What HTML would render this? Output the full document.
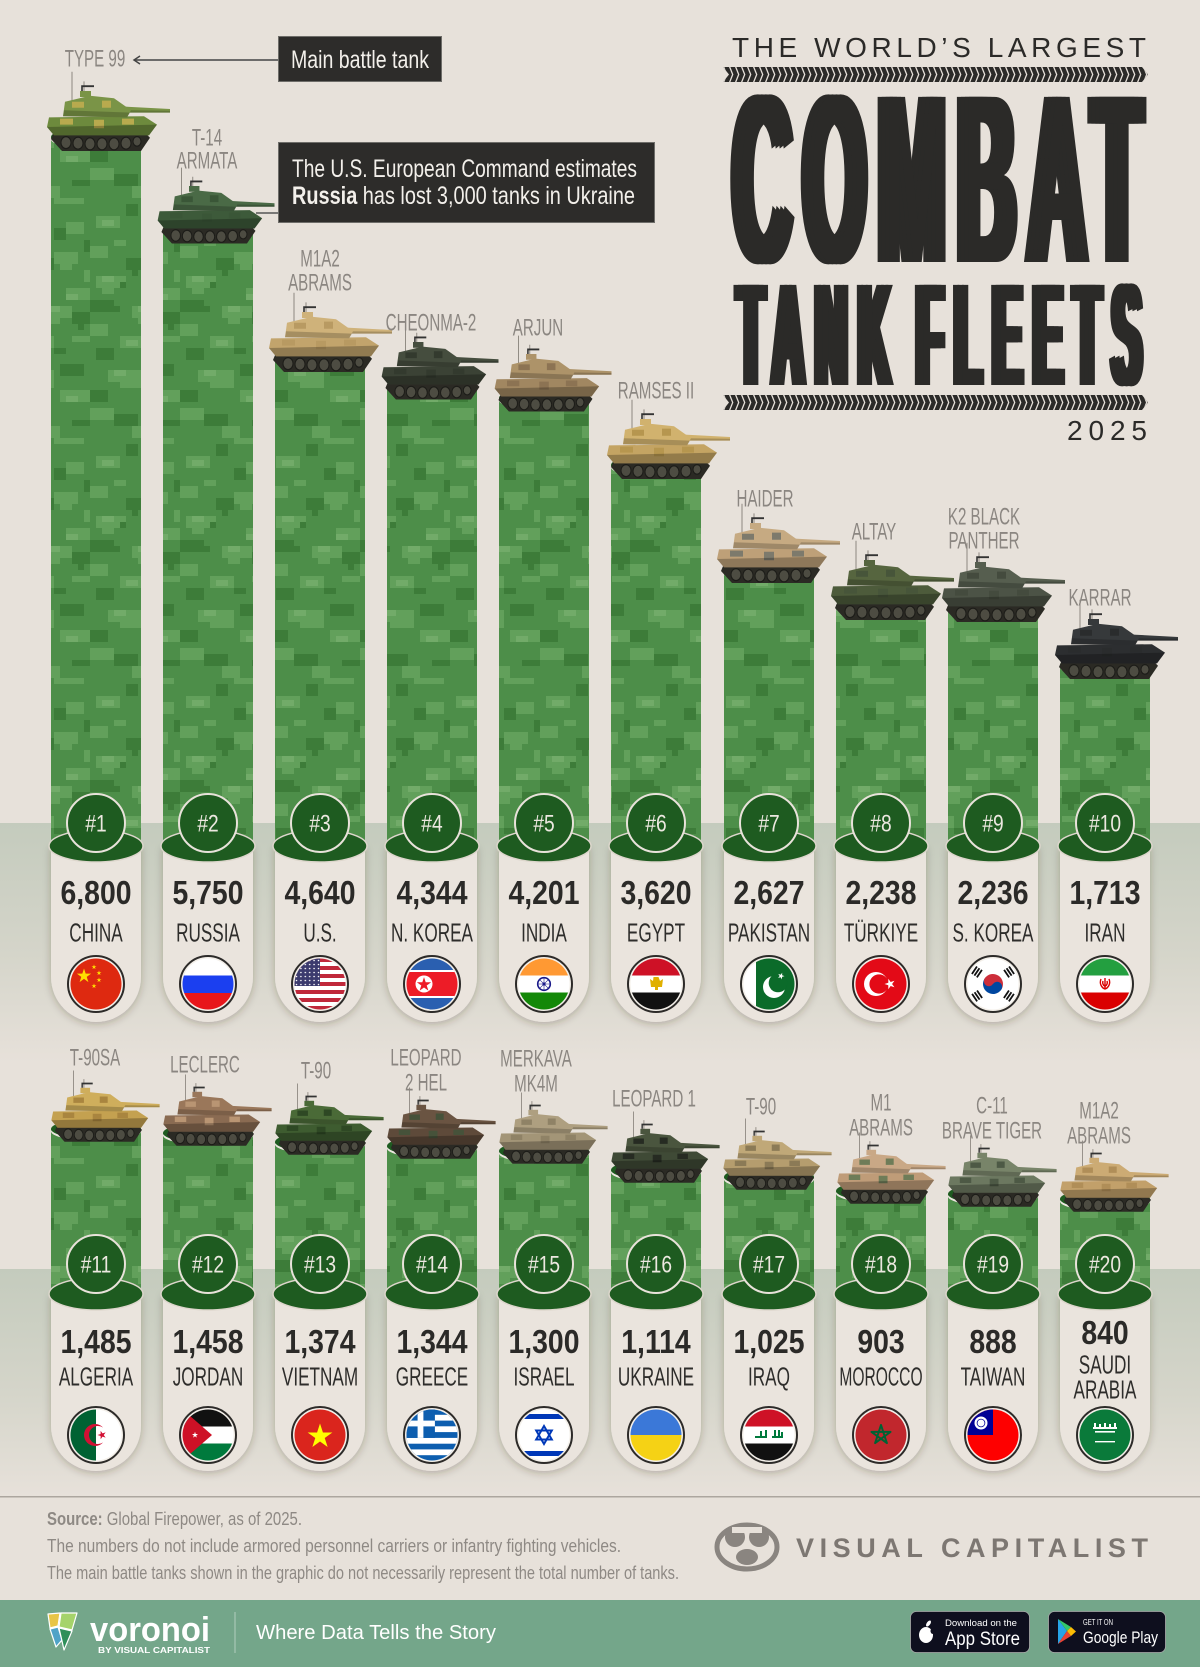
<!DOCTYPE html>
<html><head><meta charset="utf-8">
<style>
html,body{margin:0;padding:0;background:#e7e1da;}
svg{display:block;}
.v{font:bold 33px "Liberation Sans",sans-serif;fill:#2b2a28;text-anchor:middle;}
.c{font:26px "Liberation Sans",sans-serif;fill:#2e2d2b;text-anchor:middle;}
.r{font:24px "Liberation Sans",sans-serif;fill:#ece8e0;text-anchor:middle;}
.l{font:24px "Liberation Sans",sans-serif;fill:#8b8681;text-anchor:middle;}
.ann{font:25px "Liberation Sans",sans-serif;fill:#f3f0eb;}
.src{font:18px "Liberation Sans",sans-serif;fill:#8e8984;}
</style></head>
<body>
<svg width="1200" height="1667" viewBox="0 0 1200 1667" xmlns="http://www.w3.org/2000/svg">
<defs>
 <pattern id="camo" width="90" height="240" patternUnits="userSpaceOnUse">
  <rect width="90" height="240" fill="#4d8e49"/>
  <g fill="#62a05b">
   <rect x="0" y="6" width="18" height="12"/><rect x="24" y="0" width="12" height="6"/>
   <rect x="54" y="12" width="24" height="12"/><rect x="60" y="24" width="12" height="6"/>
   <rect x="6" y="36" width="30" height="12"/><rect x="12" y="48" width="12" height="6"/>
   <rect x="66" y="48" width="24" height="12"/><rect x="42" y="66" width="30" height="12"/>
   <rect x="48" y="78" width="12" height="6"/><rect x="0" y="84" width="18" height="12"/>
   <rect x="30" y="96" width="24" height="12"/><rect x="72" y="96" width="18" height="6"/>
   <rect x="84" y="30" width="6" height="12"/>
   <rect x="18" y="130" width="36" height="12"/><rect x="30" y="142" width="24" height="6"/>
   <rect x="60" y="150" width="30" height="12"/><rect x="0" y="168" width="24" height="12"/>
   <rect x="42" y="186" width="18" height="12"/><rect x="54" y="198" width="30" height="6"/>
   <rect x="6" y="216" width="24" height="12"/><rect x="66" y="222" width="18" height="12"/>
  </g>
  <g fill="#72ab69">
   <rect x="12" y="36" width="12" height="6"/><rect x="66" y="54" width="12" height="6"/>
   <rect x="48" y="66" width="12" height="6"/><rect x="36" y="100" width="12" height="6"/>
   <rect x="24" y="130" width="12" height="6"/><rect x="66" y="156" width="12" height="6"/>
   <rect x="12" y="220" width="12" height="6"/>
  </g>
  <g fill="#3d7c39">
   <rect x="36" y="18" width="18" height="12"/><rect x="42" y="30" width="6" height="6"/>
   <rect x="0" y="60" width="24" height="12"/><rect x="18" y="66" width="12" height="6"/>
   <rect x="72" y="72" width="18" height="12"/><rect x="78" y="84" width="6" height="6"/>
   <rect x="6" y="108" width="18" height="12"/><rect x="54" y="108" width="12" height="6"/>
   <rect x="30" y="42" width="6" height="6"/><rect x="84" y="0" width="6" height="12"/>
   <rect x="60" y="124" width="24" height="12"/><rect x="0" y="150" width="18" height="12"/>
   <rect x="24" y="174" width="24" height="12"/><rect x="72" y="180" width="18" height="6"/>
   <rect x="36" y="204" width="12" height="12"/><rect x="54" y="228" width="12" height="12"/>
  </g>
 </pattern>
 <linearGradient id="band" x1="0" y1="0" x2="0" y2="1">
  <stop offset="0" stop-color="#c4cbbd"/><stop offset="0.55" stop-color="#d5d5ca"/><stop offset="1" stop-color="#e7e1da"/>
 </linearGradient>
 <filter id="sh" x="-30%" y="-10%" width="160%" height="130%">
  <feDropShadow dx="0" dy="2" stdDeviation="4" flood-color="#3a3020" flood-opacity="0.28"/>
 </filter>
 <pattern id="chv1" width="6" height="15" patternUnits="userSpaceOnUse" x="723" y="67">
  <path d="M0,0H1.4L4.4,7.5L1.4,15H0L3,7.5Z" fill="#e7e1da"/>
 </pattern>
 <pattern id="chv2" width="6" height="15" patternUnits="userSpaceOnUse" x="723" y="395">
  <path d="M0,0H1.4L4.4,7.5L1.4,15H0L3,7.5Z" fill="#e7e1da"/>
 </pattern>
 <pattern id="usd" width="4.4" height="4" patternUnits="userSpaceOnUse" x="-25" y="-25">
  <circle cx="1.5" cy="1.5" r="0.8" fill="#fff"/>
 </pattern>
 <polygon id="st" points="0,-1 0.225,-0.309 0.951,-0.309 0.363,0.118 0.588,0.809 0,0.382 -0.588,0.809 -0.363,0.118 -0.951,-0.309 -0.225,-0.309"/>
 <clipPath id="fc"><circle r="25.5"/></clipPath>
 <g id="cap"><ellipse cy="2.2" rx="45" ry="10" fill="#ece7e0"/><ellipse rx="45" ry="10" fill="#1e5b20"/></g>
 <path id="pill1" d="M-45,846V977A45,45 0 0 0 45,977V846Z"/>
 <path id="pill2" d="M-45,1294V1426A45,45 0 0 0 45,1426V1294Z"/>
 <g id="hd1"><ellipse cy="846" rx="47" ry="16" fill="#1e5b20" stroke="#ddd6cc" stroke-width="1.5"/><circle cy="823" r="29" fill="#1e5b20" stroke="#e8e2da" stroke-width="2"/></g>
 <g id="hd2"><ellipse cy="1294" rx="47" ry="16" fill="#1e5b20" stroke="#ddd6cc" stroke-width="1.5"/><circle cy="1264" r="29" fill="#1e5b20" stroke="#e8e2da" stroke-width="2"/></g>
 <circle id="fr" r="28" fill="#f4f0ea" stroke="#2d2b29" stroke-width="2"/>
 <g id="tk">
  <path d="M-28,-31V-56M-16,-35V-48" stroke="#77716a" stroke-width="0.8" fill="none"/>
  <path d="M-46,-6H44L50,-1L41,10H-38L-49,0Z" fill="#2b2a24"/>
  <g fill="#4d4c42" stroke="#1c1c18" stroke-width="1">
   <circle cx="-34" cy="3" r="5"/><circle cx="-22" cy="3.5" r="5"/><circle cx="-10" cy="4" r="5"/><circle cx="2" cy="4" r="5"/><circle cx="14" cy="4" r="5"/><circle cx="26" cy="3.5" r="5"/><circle cx="37" cy="2" r="4"/>
  </g>
  <path d="M-51,-18L44,-19L57,-12L49,-3L-46,-3L-53,-10Z" style="fill:var(--b,#556b3a)"/>
  <path d="M-40,-17h13v5h-13zM-6,-16h10v7h-10zM22,-17h12v5h-12z" style="fill:var(--c,#445530)"/>
  <path d="M-53,-10L57,-12L49,-3L-46,-3Z" fill="#000" opacity=".25"/>
  <path d="M25,-27L70,-25L70,-22L25,-22Z" style="fill:var(--t,#5a7040)"/>
  <path d="M25,-24L70,-23.5L70,-22L25,-22Z" fill="#000" opacity=".2"/>
  <path d="M-37,-19L-35,-31L-10,-36L14,-34L31,-24L27,-18Z" style="fill:var(--t,#5a7040)"/>
  <path d="M-28,-31h12v5h-12zM2,-32h9v6h-9z" style="fill:var(--c,#445530)"/>
  <path d="M-37,-19L27,-18L30,-22L-36,-24Z" fill="#000" opacity=".2"/>
  <path d="M-20,-35h11v-5h-11z" style="fill:var(--t,#5a7040)"/>
  <path d="M-18,-40v-4h12" stroke="#333" stroke-width="1.6" fill="none"/>
 </g>
</defs>

<!-- background -->
<rect width="1200" height="1667" fill="#e7e1da"/>
<rect x="0" y="823" width="1200" height="240" fill="url(#band)"/>
<rect x="0" y="1269" width="1200" height="227" fill="url(#band)"/>

<!-- bars -->
<g fill="url(#camo)">
 <rect x="51" y="137" width="90" height="709"/>
 <rect x="163" y="230" width="90" height="616"/>
 <rect x="275" y="358" width="90" height="488"/>
 <rect x="387" y="386" width="90" height="460"/>
 <rect x="499" y="398" width="90" height="448"/>
 <rect x="611" y="465" width="90" height="381"/>
 <rect x="724" y="569" width="90" height="277"/>
 <rect x="836" y="606" width="90" height="240"/>
 <rect x="948" y="608" width="90" height="238"/>
 <rect x="1060" y="665" width="90" height="181"/>
 <rect x="51" y="1129" width="90" height="165"/>
 <rect x="163" y="1133" width="90" height="161"/>
 <rect x="275" y="1142" width="90" height="152"/>
 <rect x="387" y="1146" width="90" height="148"/>
 <rect x="499" y="1151" width="90" height="143"/>
 <rect x="611" y="1170" width="90" height="124"/>
 <rect x="724" y="1177" width="90" height="117"/>
 <rect x="836" y="1191" width="90" height="103"/>
 <rect x="948" y="1194" width="90" height="100"/>
 <rect x="1060" y="1199" width="90" height="95"/>
</g>
<use href="#cap" x="96" y="137"/><use href="#cap" x="208" y="230"/><use href="#cap" x="320" y="358"/><use href="#cap" x="432" y="386"/><use href="#cap" x="544" y="398"/>
<use href="#cap" x="656" y="465"/><use href="#cap" x="769" y="569"/><use href="#cap" x="881" y="606"/><use href="#cap" x="993" y="608"/><use href="#cap" x="1105" y="665"/>
<use href="#cap" x="96" y="1129"/><use href="#cap" x="208" y="1133"/><use href="#cap" x="320" y="1142"/><use href="#cap" x="432" y="1146"/><use href="#cap" x="544" y="1151"/>
<use href="#cap" x="656" y="1170"/><use href="#cap" x="769" y="1177"/><use href="#cap" x="881" y="1191"/><use href="#cap" x="993" y="1194"/><use href="#cap" x="1105" y="1199"/>

<!-- pills -->
<g fill="#eae4dd" filter="url(#sh)">
 <use href="#pill1" x="96"/><use href="#pill1" x="208"/><use href="#pill1" x="320"/><use href="#pill1" x="432"/><use href="#pill1" x="544"/>
 <use href="#pill1" x="656"/><use href="#pill1" x="769"/><use href="#pill1" x="881"/><use href="#pill1" x="993"/><use href="#pill1" x="1105"/>
 <use href="#pill2" x="96"/><use href="#pill2" x="208"/><use href="#pill2" x="320"/><use href="#pill2" x="432"/><use href="#pill2" x="544"/>
 <use href="#pill2" x="656"/><use href="#pill2" x="769"/><use href="#pill2" x="881"/><use href="#pill2" x="993"/><use href="#pill2" x="1105"/>
</g>
<use href="#hd1" x="96"/><use href="#hd1" x="208"/><use href="#hd1" x="320"/><use href="#hd1" x="432"/><use href="#hd1" x="544"/>
<use href="#hd1" x="656"/><use href="#hd1" x="769"/><use href="#hd1" x="881"/><use href="#hd1" x="993"/><use href="#hd1" x="1105"/>
<use href="#hd2" x="96"/><use href="#hd2" x="208"/><use href="#hd2" x="320"/><use href="#hd2" x="432"/><use href="#hd2" x="544"/>
<use href="#hd2" x="656"/><use href="#hd2" x="769"/><use href="#hd2" x="881"/><use href="#hd2" x="993"/><use href="#hd2" x="1105"/>

<!-- ranks -->
<g class="r" transform="scale(0.8,1)">
 <text x="120" y="831.5">#1</text><text x="260" y="831.5">#2</text><text x="400" y="831.5">#3</text><text x="540" y="831.5">#4</text><text x="680" y="831.5">#5</text>
 <text x="820" y="831.5">#6</text><text x="961.25" y="831.5">#7</text><text x="1101.25" y="831.5">#8</text><text x="1241.25" y="831.5">#9</text><text x="1381.25" y="831.5">#10</text>
 <text x="120" y="1272.5">#11</text><text x="260" y="1272.5">#12</text><text x="400" y="1272.5">#13</text><text x="540" y="1272.5">#14</text><text x="680" y="1272.5">#15</text>
 <text x="820" y="1272.5">#16</text><text x="961.25" y="1272.5">#17</text><text x="1101.25" y="1272.5">#18</text><text x="1241.25" y="1272.5">#19</text><text x="1381.25" y="1272.5">#20</text>
</g>

<!-- values -->
<g class="v" transform="scale(0.86,1)">
 <text x="111.63" y="904">6,800</text><text x="241.86" y="904">5,750</text><text x="372.09" y="904">4,640</text><text x="502.33" y="904">4,344</text><text x="632.56" y="904">4,201</text>
 <text x="762.79" y="904">3,620</text><text x="894.19" y="904">2,627</text><text x="1024.42" y="904">2,238</text><text x="1154.65" y="904">2,236</text><text x="1284.88" y="904">1,713</text>
 <text x="111.63" y="1353">1,485</text><text x="241.86" y="1353">1,458</text><text x="372.09" y="1353">1,374</text><text x="502.33" y="1353">1,344</text><text x="632.56" y="1353">1,300</text>
 <text x="762.79" y="1353">1,114</text><text x="894.19" y="1353">1,025</text><text x="1024.42" y="1353">903</text><text x="1154.65" y="1353">888</text><text x="1284.88" y="1344">840</text>
</g>

<!-- countries -->
<g class="c" transform="scale(0.66,1)">
 <text x="145.45" y="941.5">CHINA</text><text x="315.15" y="941.5">RUSSIA</text><text x="484.85" y="941.5">U.S.</text><text x="654.55" y="941.5">N. KOREA</text><text x="824.24" y="941.5">INDIA</text>
 <text x="993.94" y="941.5">EGYPT</text><text x="1165.15" y="941.5">PAKISTAN</text><text x="1334.85" y="941.5">TÜRKIYE</text><text x="1504.55" y="941.5">S. KOREA</text><text x="1674.24" y="941.5">IRAN</text>
 <text x="145.45" y="1385.5">ALGERIA</text><text x="315.15" y="1385.5">JORDAN</text><text x="484.85" y="1385.5">VIETNAM</text><text x="654.55" y="1385.5">GREECE</text><text x="824.24" y="1385.5">ISRAEL</text>
 <text x="993.94" y="1385.5">UKRAINE</text><text x="1165.15" y="1385.5">IRAQ</text><text x="1334.85" y="1385.5" textLength="126" lengthAdjust="spacingAndGlyphs">MOROCCO</text><text x="1504.55" y="1385.5">TAIWAN</text>
 <text x="1674.24" y="1373.5">SAUDI</text><text x="1674.24" y="1398.5">ARABIA</text>
</g>

<!-- flag rings -->
<use href="#fr" x="96" y="984"/><use href="#fr" x="208" y="984"/><use href="#fr" x="320" y="984"/><use href="#fr" x="432" y="984"/><use href="#fr" x="544" y="984"/>
<use href="#fr" x="656" y="984"/><use href="#fr" x="769" y="984"/><use href="#fr" x="881" y="984"/><use href="#fr" x="993" y="984"/><use href="#fr" x="1105" y="984"/>
<use href="#fr" x="96" y="1435"/><use href="#fr" x="208" y="1435"/><use href="#fr" x="320" y="1435"/><use href="#fr" x="432" y="1435"/><use href="#fr" x="544" y="1435"/>
<use href="#fr" x="656" y="1435"/><use href="#fr" x="769" y="1435"/><use href="#fr" x="881" y="1435"/><use href="#fr" x="993" y="1435"/><use href="#fr" x="1105" y="1435"/>

<!-- China -->
<g transform="translate(96,984)" clip-path="url(#fc)">
 <rect x="-26" y="-26" width="52" height="52" fill="#de2910"/>
 <g fill="#ffde00">
  <use href="#st" transform="translate(-12,-8) scale(7.5)"/>
  <use href="#st" transform="translate(-2,-17) scale(2.6)"/>
  <use href="#st" transform="translate(3,-11) scale(2.6)"/>
  <use href="#st" transform="translate(3,-4) scale(2.6)"/>
  <use href="#st" transform="translate(-2,2) scale(2.6)"/>
 </g>
</g>
<!-- Russia -->
<g transform="translate(208,984)" clip-path="url(#fc)">
 <rect x="-26" y="-26" width="52" height="18" fill="#fff"/>
 <rect x="-26" y="-8.5" width="52" height="17.5" fill="#1b3ff0"/>
 <rect x="-26" y="9" width="52" height="17" fill="#e8161b"/>
</g>
<!-- US -->
<g transform="translate(320,984)" clip-path="url(#fc)">
 <rect x="-26" y="-26" width="52" height="52" fill="#fff"/>
 <g fill="#c0283a">
  <rect x="-26" y="-26" width="52" height="4"/><rect x="-26" y="-18" width="52" height="4"/><rect x="-26" y="-10" width="52" height="4"/>
  <rect x="-26" y="-2" width="52" height="4"/><rect x="-26" y="6" width="52" height="4"/><rect x="-26" y="14" width="52" height="4"/><rect x="-26" y="22" width="52" height="4"/>
 </g>
 <rect x="-26" y="-26" width="26" height="28" fill="#3c3b6e"/>
 <rect x="-26" y="-26" width="26" height="28" fill="url(#usd)"/>
</g>
<!-- N Korea -->
<g transform="translate(432,984)" clip-path="url(#fc)">
 <rect x="-26" y="-26" width="52" height="52" fill="#fff"/>
 <rect x="-26" y="-26" width="52" height="12" fill="#2a5fb0"/>
 <rect x="-26" y="-12" width="52" height="24" fill="#ed1c27"/>
 <rect x="-26" y="14" width="52" height="12" fill="#2a5fb0"/>
 <circle cx="-8" cy="0" r="8.5" fill="#fff"/>
 <use href="#st" transform="translate(-8,0.6) scale(7.5)" fill="#ed1c27"/>
</g>
<!-- India -->
<g transform="translate(544,984)" clip-path="url(#fc)">
 <rect x="-26" y="-26" width="52" height="17.5" fill="#ff9933"/>
 <rect x="-26" y="-8.5" width="52" height="17" fill="#fff"/>
 <rect x="-26" y="8.5" width="52" height="17.5" fill="#138808"/>
 <circle r="6.3" fill="none" stroke="#1a1a8a" stroke-width="1.6"/>
 <circle r="1.6" fill="#1a1a8a"/>
 <path d="M-6,0H6M0,-6V6M-4.2,-4.2L4.2,4.2M-4.2,4.2L4.2,-4.2" stroke="#1a1a8a" stroke-width="0.6"/>
</g>
<!-- Egypt -->
<g transform="translate(656,984)" clip-path="url(#fc)">
 <rect x="-26" y="-26" width="52" height="17.5" fill="#ce1126"/>
 <rect x="-26" y="-8.5" width="52" height="17" fill="#fff"/>
 <rect x="-26" y="8.5" width="52" height="17.5" fill="#111"/>
 <path d="M-2.5,-7h5l1.5,4l3,-2l-1,8h-4l0,3h-3l0,-3h-4l-1,-8l3,2z" fill="#e0b000"/>
</g>
<!-- Pakistan -->
<g transform="translate(769,984)" clip-path="url(#fc)">
 <rect x="-26" y="-26" width="52" height="52" fill="#fff"/>
 <rect x="-13" y="-26" width="39" height="52" fill="#0b6b2a"/>
 <circle cx="5" cy="3" r="11" fill="#fff"/>
 <circle cx="9" cy="-1" r="9.3" fill="#0b6b2a"/>
 <use href="#st" transform="translate(12,-8) rotate(20) scale(3.5)" fill="#fff"/>
</g>
<!-- Turkiye -->
<g transform="translate(881,984)" clip-path="url(#fc)">
 <rect x="-26" y="-26" width="52" height="52" fill="#e30a17"/>
 <circle cx="-5" cy="0" r="12" fill="#fff"/>
 <circle cx="-2" cy="0" r="9.6" fill="#e30a17"/>
 <use href="#st" transform="translate(9,0) rotate(-90) scale(5.5)" fill="#fff"/>
</g>
<!-- S Korea -->
<g transform="translate(993,984)" clip-path="url(#fc)">
 <rect x="-26" y="-26" width="52" height="52" fill="#fff"/>
 <g transform="rotate(34)">
  <path d="M-10,0A10,10 0 0 1 10,0Z" fill="#cd2e3a"/>
  <path d="M-10,0A10,10 0 0 0 10,0Z" fill="#0047a0"/>
  <circle cx="-5" cy="0" r="5" fill="#cd2e3a"/>
  <circle cx="5" cy="0" r="5" fill="#0047a0"/>
 </g>
 <g fill="#111">
  <g transform="translate(-16,-12) rotate(-56)"><rect x="-4.5" y="-4" width="9" height="1.8"/><rect x="-4.5" y="-1" width="9" height="1.8"/><rect x="-4.5" y="2" width="9" height="1.8"/></g>
  <g transform="translate(16,-12) rotate(56)"><rect x="-4.5" y="-4" width="9" height="1.8"/><rect x="-4.5" y="-1" width="9" height="1.8"/><rect x="-4.5" y="2" width="9" height="1.8"/></g>
  <g transform="translate(-16,12) rotate(56)"><rect x="-4.5" y="-4" width="9" height="1.8"/><rect x="-4.5" y="-1" width="9" height="1.8"/><rect x="-4.5" y="2" width="9" height="1.8"/></g>
  <g transform="translate(16,12) rotate(-56)"><rect x="-4.5" y="-4" width="9" height="1.8"/><rect x="-4.5" y="-1" width="9" height="1.8"/><rect x="-4.5" y="2" width="9" height="1.8"/></g>
 </g>
</g>
<!-- Iran -->
<g transform="translate(1105,984)" clip-path="url(#fc)">
 <rect x="-26" y="-26" width="52" height="17.5" fill="#239f40"/>
 <rect x="-26" y="-8.5" width="52" height="17" fill="#fff"/>
 <rect x="-26" y="8.5" width="52" height="17.5" fill="#da0000"/>
 <path d="M-4,-5C-6,0 -3,4 0,5C3,4 6,0 4,-5M0,-6V5M-2,-3C-3,0 -1,2 0,2C1,2 3,0 2,-3" stroke="#da0000" stroke-width="1.4" fill="none"/>
</g>

<!-- Algeria -->
<g transform="translate(96,1435)" clip-path="url(#fc)">
 <rect x="-26" y="-26" width="26" height="52" fill="#006233"/>
 <rect x="0" y="-26" width="26" height="52" fill="#fff"/>
 <path transform="translate(-3,0)" d="M10.17,-7.37A11,11 0 1 0 10.17,7.37A9,9 0 1 1 10.17,-7.37Z" fill="#d21034"/>
 <use href="#st" transform="translate(6,0) rotate(-90) scale(4.5)" fill="#d21034"/>
</g>
<!-- Jordan -->
<g transform="translate(208,1435)" clip-path="url(#fc)">
 <rect x="-26" y="-26" width="52" height="17.5" fill="#111"/>
 <rect x="-26" y="-8.5" width="52" height="17" fill="#fff"/>
 <rect x="-26" y="8.5" width="52" height="17.5" fill="#007a3d"/>
 <polygon points="-26,-26 4,0 -26,26" fill="#ce1126"/>
 <use href="#st" transform="translate(-13,0) scale(3.2)" fill="#fff"/>
</g>
<!-- Vietnam -->
<g transform="translate(320,1435)" clip-path="url(#fc)">
 <rect x="-26" y="-26" width="52" height="52" fill="#da251d"/>
 <use href="#st" transform="translate(0,1.5) scale(13)" fill="#ffff00"/>
</g>
<!-- Greece -->
<g transform="translate(432,1435)" clip-path="url(#fc)">
 <rect x="-26" y="-26" width="52" height="52" fill="#0d5eaf"/>
 <g fill="#fff"><rect x="-26" y="-20.2" width="52" height="5.8"/><rect x="-26" y="-8.7" width="52" height="5.8"/><rect x="-26" y="2.9" width="52" height="5.8"/><rect x="-26" y="14.4" width="52" height="5.8"/></g>
 <rect x="-26" y="-26" width="28.9" height="28.9" fill="#0d5eaf"/>
 <rect x="-26" y="-14.4" width="28.9" height="5.8" fill="#fff"/>
 <rect x="-14.4" y="-26" width="5.8" height="28.9" fill="#fff"/>
</g>
<!-- Israel -->
<g transform="translate(544,1435)" clip-path="url(#fc)">
 <rect x="-26" y="-26" width="52" height="52" fill="#fff"/>
 <rect x="-26" y="-21" width="52" height="5" fill="#0038b8"/>
 <rect x="-26" y="16" width="52" height="5" fill="#0038b8"/>
 <polygon points="0,-9 7.8,4.5 -7.8,4.5" fill="none" stroke="#0038b8" stroke-width="2"/>
 <polygon points="0,9 7.8,-4.5 -7.8,-4.5" fill="none" stroke="#0038b8" stroke-width="2"/>
</g>
<!-- Ukraine -->
<g transform="translate(656,1435)" clip-path="url(#fc)">
 <rect x="-26" y="-26" width="52" height="26" fill="#3b78d8"/>
 <rect x="-26" y="0" width="52" height="26" fill="#f5d215"/>
</g>
<!-- Iraq -->
<g transform="translate(769,1435)" clip-path="url(#fc)">
 <rect x="-26" y="-26" width="52" height="17.5" fill="#ce1126"/>
 <rect x="-26" y="-8.5" width="52" height="17" fill="#fff"/>
 <rect x="-26" y="8.5" width="52" height="17.5" fill="#111"/>
 <g fill="#007a3d"><rect x="-14" y="1" width="12" height="2"/><rect x="-9" y="-4" width="2" height="6"/><rect x="-4" y="-5" width="2" height="7"/><rect x="3" y="1" width="11" height="2"/><rect x="5" y="-5" width="2" height="7"/><rect x="9" y="-5" width="2" height="7"/><rect x="12" y="-3" width="2" height="5"/></g>
</g>
<!-- Morocco -->
<g transform="translate(881,1435)" clip-path="url(#fc)">
 <rect x="-26" y="-26" width="52" height="52" fill="#c1272d"/>
 <polygon points="0,-10 5.88,8.09 -9.51,-3.09 9.51,-3.09 -5.88,8.09" fill="none" stroke="#006233" stroke-width="2" stroke-linejoin="round"/>
</g>
<!-- Taiwan -->
<g transform="translate(993,1435)" clip-path="url(#fc)">
 <rect x="-26" y="-26" width="52" height="52" fill="#fe0000"/>
 <rect x="-26" y="-26" width="26" height="26" fill="#000095"/>
 <circle cx="-12" cy="-12" r="6.5" fill="#fff"/>
 <circle cx="-12" cy="-12" r="4.3" fill="#000095"/>
 <circle cx="-12" cy="-12" r="3.5" fill="#fff"/>
</g>
<!-- Saudi -->
<g transform="translate(1105,1435)" clip-path="url(#fc)">
 <rect x="-26" y="-26" width="52" height="52" fill="#0a7a3a"/>
 <g fill="#fff"><rect x="-12" y="-8" width="24" height="2"/><rect x="-11" y="-12" width="2" height="6"/><rect x="-6" y="-11" width="2" height="5"/><rect x="-1" y="-12" width="2" height="6"/><rect x="4" y="-11" width="2" height="5"/><rect x="9" y="-12" width="2" height="6"/><rect x="-10" y="-4" width="20" height="1.6"/><rect x="-10" y="6" width="20" height="1.4"/></g>
</g>

<!-- tanks row 1 -->
<use href="#tk" transform="translate(100,139) scale(1,1.2)" style="--b:#6d8a3d;--t:#7a9447;--c:#b8aa4e"/>
<use href="#tk" transform="translate(208,232) scale(.95,1.15)" style="--b:#3d5a3a;--t:#4a6a46;--c:#3a5637"/>
<use href="#tk" transform="translate(322,360) scale(1,1.2)" style="--b:#c2a46c;--t:#cfb27a;--c:#b89a62"/>
<use href="#tk" transform="translate(432,388) scale(.95,1.15)" style="--b:#3b4235;--t:#454d3e;--c:#333a2e"/>
<use href="#tk" transform="translate(545,400) scale(.95,1.15)" style="--b:#a18761;--t:#ad9369;--c:#8c7353"/>
<use href="#tk" transform="translate(660,467) scale(1,1.2)" style="--b:#c4a463;--t:#d1b26e;--c:#b6964f"/>
<use href="#tk" transform="translate(770,571) scale(1,1.2)" style="--b:#bea078;--t:#c6aa82;--c:#7d7a6c"/>
<use href="#tk" transform="translate(884,608) scale(1,1.2)" style="--b:#4d5b3b;--t:#56653f;--c:#47553a"/>
<use href="#tk" transform="translate(995,610) scale(1,1.2)" style="--b:#4c5346;--t:#565e4f;--c:#444b3e"/>
<use href="#tk" transform="translate(1108,667) scale(1,1.2)" style="--b:#2c2e30;--t:#36393b;--c:#2a2c2d"/>
<!-- tanks row 2 -->
<use href="#tk" transform="translate(98,1131) scale(.88,1.08)" style="--b:#c4a150;--t:#cfae5c;--c:#a9853f"/>
<use href="#tk" transform="translate(210,1135) scale(.88,1.08)" style="--b:#8a6b52;--t:#9a775a;--c:#b99573"/>
<use href="#tk" transform="translate(322,1144) scale(.88,1.08)" style="--b:#3e5c30;--t:#4a6a37;--c:#2e4824"/>
<use href="#tk" transform="translate(434,1148) scale(.88,1.08)" style="--b:#5e4a3a;--t:#6a5442;--c:#46523a"/>
<use href="#tk" transform="translate(546,1153) scale(.88,1.08)" style="--b:#a39577;--t:#ae9f80;--c:#8f8266"/>
<use href="#tk" transform="translate(658,1172) scale(.88,1.08)" style="--b:#3f4a36;--t:#4a553e;--c:#262b22"/>
<use href="#tk" transform="translate(770,1179) scale(.88,1.08)" style="--b:#b59d6e;--t:#c0a878;--c:#8b7a56"/>
<use href="#tk" transform="translate(884,1193) scale(.88,1.08)" style="--b:#bf9c78;--t:#c9a886;--c:#6e7c58"/>
<use href="#tk" transform="translate(995,1196) scale(.88,1.08)" style="--b:#6c7860;--t:#788469;--c:#4d5945"/>
<use href="#tk" transform="translate(1107,1201) scale(.88,1.08)" style="--b:#c2a06a;--t:#ccab74;--c:#b08e58"/>

<!-- tank labels -->
<g class="l" transform="scale(0.63,1)">
 <text x="150.79" y="66.5">TYPE 99</text>
 <text x="328.57" y="145.5">T-14</text><text x="328.57" y="168.5">ARMATA</text>
 <text x="507.94" y="266.5">M1A2</text><text x="507.94" y="290.5">ABRAMS</text>
 <text x="684.13" y="330.5">CHEONMA-2</text>
 <text x="853.97" y="335.5">ARJUN</text>
 <text x="1041.27" y="398.5">RAMSES II</text>
 <text x="1214.29" y="506.5">HAIDER</text>
 <text x="1387.30" y="539.5">ALTAY</text>
 <text x="1561.90" y="524.5">K2 BLACK</text><text x="1561.90" y="548.5">PANTHER</text>
 <text x="1746.03" y="605.5">KARRAR</text>
 <text x="150.79" y="1065.5">T-90SA</text>
 <text x="325.40" y="1072.5">LECLERC</text>
 <text x="501.59" y="1078.5">T-90</text>
 <text x="676.19" y="1065.5">LEOPARD</text><text x="676.19" y="1090.5">2 HEL</text>
 <text x="850.79" y="1066.5">MERKAVA</text><text x="850.79" y="1091.5">MK4M</text>
 <text x="1038.10" y="1106.5">LEOPARD 1</text>
 <text x="1207.94" y="1114.5">T-90</text>
 <text x="1398.41" y="1110.5">M1</text><text x="1398.41" y="1135.5">ABRAMS</text>
 <text x="1574.60" y="1113.5">C-11</text><text x="1574.60" y="1138.5">BRAVE TIGER</text>
 <text x="1744.44" y="1118.5">M1A2</text><text x="1744.44" y="1143.5">ABRAMS</text>
</g>

<!-- annotations -->
<line x1="134" y1="60" x2="278" y2="60" stroke="#444" stroke-width="1.5"/>
<path d="M140,56L134,60L140,64" stroke="#444" stroke-width="1.5" fill="none"/>
<rect x="278.5" y="36.5" width="163" height="45" fill="#2d2c2a" stroke="#6e6d69" stroke-width="1"/>
<text class="ann" x="360" y="68" text-anchor="middle" textLength="138" lengthAdjust="spacingAndGlyphs">Main battle tank</text>
<line x1="256" y1="213" x2="278" y2="213" stroke="#555" stroke-width="1.5"/>
<rect x="278.5" y="142.5" width="376" height="80" fill="#2d2c2a" stroke="#6e6d69" stroke-width="1"/>
<text class="ann" x="292" y="177" textLength="345" lengthAdjust="spacingAndGlyphs">The U.S. European Command estimates</text>
<text class="ann" x="292" y="204" textLength="343" lengthAdjust="spacingAndGlyphs"><tspan font-weight="bold">Russia</tspan> has lost 3,000 tanks in Ukraine</text>

<!-- title -->
<text x="732" y="57" textLength="414" lengthAdjust="spacing" style="font:28px 'Liberation Sans',sans-serif;fill:#2b2a28">THE WORLD’S LARGEST</text>
<path d="M723,67H1142L1148,74.5L1142,82H723L729,74.5Z" fill="#2b2a28"/>
<path d="M723,67H1142L1148,74.5L1142,82H723L729,74.5Z" fill="url(#chv1)"/>
<g style="font-family:'Liberation Sans',sans-serif;font-weight:bold;fill:#2b2a28">
 <text transform="translate(727,262) scale(0.8,2.4)" font-size="100" letter-spacing="15.8">COMBAT</text>
 <text transform="translate(731,262) scale(0.8,2.4)" font-size="100" letter-spacing="15.8" aria-hidden="true">COMBAT</text>
 <text transform="translate(735,262) scale(0.8,2.4)" font-size="100" letter-spacing="15.8" aria-hidden="true">COMBAT</text>
 <text transform="translate(739,262) scale(0.8,2.4)" font-size="100" letter-spacing="15.8" aria-hidden="true">COMBAT</text>
 <text transform="translate(733,385) scale(0.62,2.08)" font-size="70" letter-spacing="18.8" word-spacing="-14">TANK FLEETS</text>
 <text transform="translate(737.5,385) scale(0.62,2.08)" font-size="70" letter-spacing="18.8" word-spacing="-14" aria-hidden="true">TANK FLEETS</text>
 <text transform="translate(742,385) scale(0.62,2.08)" font-size="70" letter-spacing="18.8" word-spacing="-14" aria-hidden="true">TANK FLEETS</text>
</g>
<path d="M723,395H1142L1148,402.5L1142,410H723L729,402.5Z" fill="#2b2a28"/>
<path d="M723,395H1142L1148,402.5L1142,410H723L729,402.5Z" fill="url(#chv2)"/>
<text x="1067" y="440" textLength="80" lengthAdjust="spacing" style="font:28px 'Liberation Sans',sans-serif;fill:#2b2a28">2025</text>

<!-- footer notes -->
<rect x="0" y="1496" width="1200" height="1.5" fill="#aca69f"/>
<text class="src" x="47" y="1525" textLength="255" lengthAdjust="spacingAndGlyphs"><tspan font-weight="bold">Source:</tspan> Global Firepower, as of 2025.</text>
<text class="src" x="47" y="1552" textLength="574" lengthAdjust="spacingAndGlyphs">The numbers do not include armored personnel carriers or infantry fighting vehicles.</text>
<text class="src" x="47" y="1579" textLength="632" lengthAdjust="spacingAndGlyphs">The main battle tanks shown in the graphic do not necessarily represent the total number of tanks.</text>

<!-- VC logo -->
<g fill="#8a8580">
 <ellipse cx="747" cy="1547" rx="30" ry="22" fill="none" stroke="#8a8580" stroke-width="5"/>
 <circle cx="735" cy="1537" r="10"/><circle cx="759" cy="1537" r="10"/>
 <ellipse cx="747" cy="1557" rx="11" ry="8"/>
 <rect x="732" y="1527" width="30" height="6" fill="#e7e1da"/>
</g>
<text x="796" y="1557" textLength="352" lengthAdjust="spacing" style="font:bold 27px 'Liberation Sans',sans-serif;fill:#7d7772">VISUAL CAPITALIST</text>

<!-- green footer -->
<rect x="0" y="1600" width="1200" height="67" fill="#74a68a"/>
<g stroke="#fff" stroke-width="1.2" stroke-linejoin="round">
 <polygon points="48,1614 60,1613 58,1626 50,1628" fill="#e8c547"/>
 <polygon points="61,1613 77,1613 72,1630 59,1627" fill="#a5d36b"/>
 <polygon points="50,1629 58,1627 62,1640 56,1647" fill="#4fa3c7"/>
 <polygon points="59,1628 72,1631 64,1650 62,1641" fill="#2f8f5a"/>
</g>
<text x="90" y="1641" textLength="120" lengthAdjust="spacingAndGlyphs" style="font:bold 34px 'Liberation Sans',sans-serif;fill:#fff">voronoi</text>
<text x="98" y="1653" textLength="112" lengthAdjust="spacingAndGlyphs" style="font:bold 8.5px 'Liberation Sans',sans-serif;fill:#fff">BY VISUAL CAPITALIST</text>
<line x1="235" y1="1612" x2="235" y2="1653" stroke="#fff" stroke-opacity="0.45" stroke-width="1"/>
<text x="256" y="1639" textLength="240" lengthAdjust="spacingAndGlyphs" style="font:20px 'Liberation Sans',sans-serif;fill:#fff">Where Data Tells the Story</text>

<rect x="910.5" y="1611.5" width="119" height="41" rx="6" fill="#0e0f1e" stroke="#a9a9a9" stroke-width="0.8"/>
<g fill="#fff">
 <ellipse cx="926" cy="1635" rx="7" ry="8"/>
 <ellipse cx="928.5" cy="1623.5" rx="1.8" ry="3.5" transform="rotate(35 928.5 1623.5)"/>
</g>
<ellipse cx="933" cy="1631" rx="2.5" ry="3" fill="#0e0f1e"/>
<text x="945" y="1626" textLength="72" lengthAdjust="spacingAndGlyphs" style="font:9px 'Liberation Sans',sans-serif;fill:#fff">Download on the</text>
<text x="945" y="1645" textLength="75" lengthAdjust="spacingAndGlyphs" style="font:19px 'Liberation Sans',sans-serif;fill:#fff">App Store</text>

<rect x="1048.5" y="1611.5" width="117" height="41" rx="6" fill="#0e0f1e" stroke="#a9a9a9" stroke-width="0.8"/>
<polygon points="1058,1619 1067,1631 1058,1644" fill="#27a4e8"/>
<polygon points="1058,1619 1071,1627 1067,1631" fill="#34c76a"/>
<polygon points="1058,1644 1067,1631 1071,1636" fill="#ea4335"/>
<polygon points="1071,1627 1076,1631.5 1071,1636 1067,1631" fill="#fbbc04"/>
<text x="1083" y="1625" textLength="30" lengthAdjust="spacingAndGlyphs" style="font:8px 'Liberation Sans',sans-serif;fill:#fff">GET IT ON</text>
<text x="1083" y="1643" textLength="75" lengthAdjust="spacingAndGlyphs" style="font:17px 'Liberation Sans',sans-serif;fill:#fff">Google Play</text>
</svg>
</body></html>
